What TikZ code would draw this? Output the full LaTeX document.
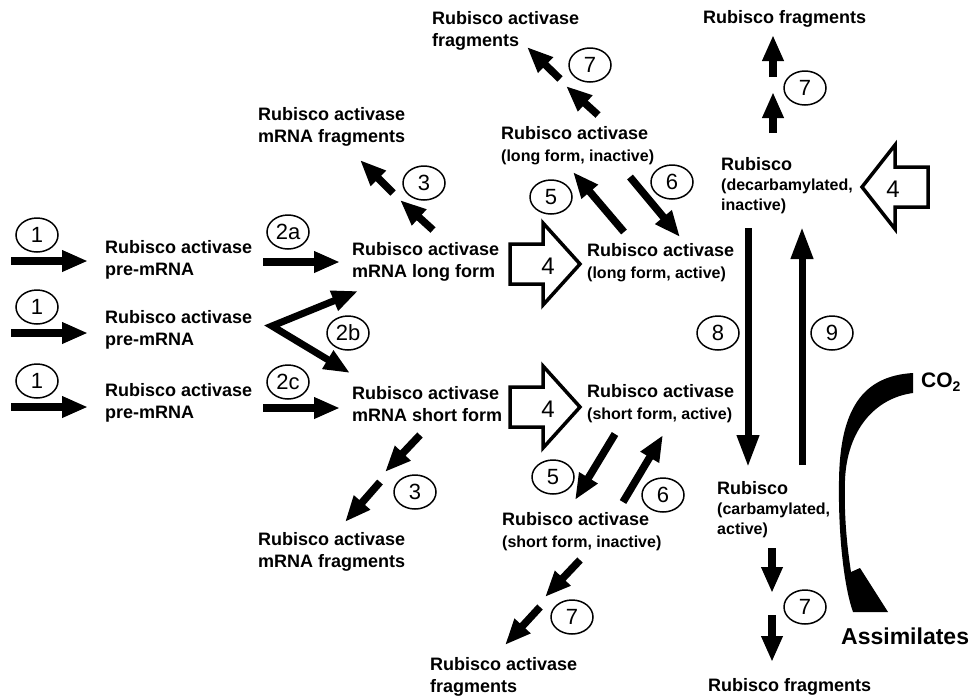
\documentclass[tikz,border=0pt]{standalone}
\usepackage{fontspec}
\setmainfont{Liberation Sans}
\usetikzlibrary{arrows.meta,shapes.geometric}
\newcommand\subf{\fontsize{16}{20}\selectfont}
\newcommand\seg[4][fat]{\coordinate (#2s) at (#3); \coordinate (#2e) at (#4); \draw[#1] (#2s) -- (#2e);}
\tikzset{
 lbl/.style={anchor=west, align=left, inner sep=0pt, font=\bfseries\fontsize{18}{22}\selectfont},
 lbls/.style={anchor=west, align=left, inner sep=0pt, font=\bfseries\fontsize{16}{20}\selectfont},
 num/.style={draw, ellipse, line width=1.5pt, minimum width=42pt, minimum height=34pt, inner sep=0pt, font=\fontsize{22}{22}\selectfont},
 fat/.style={line width=7.5pt, -{Triangle[length=26pt,width=20pt]}},
 longfat/.style={line width=7pt, -{Triangle[length=32pt,width=21pt]}},
 hollow/.style={draw, line width=3.5pt, line join=miter, fill=white},
 four/.style={font=\fontsize{24}{24}\selectfont, inner sep=0pt},
}
\begin{document}
\begin{tikzpicture}[x=1pt,y=-1pt]
\useasboundingbox (0,0) rectangle (973,697);
\fill[white] (0,0) rectangle (973,697);

% ---- text nodes
\node[lbl] (pre1) at (105,260) {Rubisco activase\\pre-mRNA};
\node[lbl] (pre2) at (105,330) {Rubisco activase\\pre-mRNA};
\node[lbl] (pre3) at (105,403) {Rubisco activase\\pre-mRNA};
\node[lbl] (mlong) at (352,262) {Rubisco activase\\mRNA long form};
\node[lbl] (mshort) at (352,404) {Rubisco activase\\mRNA short form};
\node[lbl] (mfragt) at (258,127) {Rubisco activase\\mRNA fragments};
\node[lbl] (mfragb) at (258,552) {Rubisco activase\\mRNA fragments};
\node[lbl] (lact) at (587,263) {Rubisco activase\\{\subf (long form, active)}};
\node[lbl] (linact) at (501,146) {Rubisco activase\\{\subf (long form, inactive)}};
\node[lbl] (sact) at (587,404) {Rubisco activase\\{\subf (short form, active)}};
\node[lbl] (sinact) at (502,532) {Rubisco activase\\{\subf (short form, inactive)}};
\node[lbl] (afragt) at (432,31) {Rubisco activase\\fragments};
\node[lbl] (afragb) at (430,677) {Rubisco activase\\fragments};
\node[lbls] (rdec) at (721,186) {{\fontsize{18}{20}\selectfont Rubisco}\\(decarbamylated,\\inactive)};
\node[lbls] (rcarb) at (717,510) {{\fontsize{18}{20}\selectfont Rubisco}\\(carbamylated,\\active)};
\node[lbl] (rfragt) at (703,19) {Rubisco fragments};
\node[lbl] (rfragb) at (708,687) {Rubisco fragments};
\node[lbl, font=\bfseries\fontsize{21}{22}\selectfont] (co2) at (921,382) {CO\raisebox{-0.4ex}{\fontsize{14}{14}\selectfont 2}};
\node[lbl, font=\bfseries\fontsize{23}{24}\selectfont] (assim) at (841,636) {Assimilates};

% ---- step 1
\seg{a1a}{11,261}{88,261}
\seg{a1b}{11,333}{88,333}
\seg{a1c}{11,407}{88,407}
\node[num] (n1a) at (37,235) {1};
\node[num] (n1b) at (37,307) {1};
\node[num] (n1c) at (37,381) {1};

% ---- step 2
\seg{a2a}{263,262}{340,262}
\seg{a2c}{263,408}{340,408}
\coordinate (v2b) at (272,326);
\coordinate (t2bu) at (358,291);
\coordinate (t2bd) at (350,373);
\draw[line width=7pt, line join=miter, {Triangle[length=26pt,width=20pt]}-{Triangle[length=26pt,width=20pt]}] (t2bu) -- (v2b) -- (t2bd);
\node[num] (n2a) at (288,232) {2a};
\node[num] (n2b) at (348,333) {2b};
\node[num] (n2c) at (288,382) {2c};

% ---- step 3
\seg{a3u1}{433,230}{400,200}
\seg{a3u2}{393,193}{360,160}
\node[num] (n3u) at (424,183) {3};
\seg{a3d1}{420,435}{385,472}
\seg{a3d2}{380,482}{345,522}
\node[num] (n3d) at (415,492) {3};

% ---- step 4 (hollow)
\draw[hollow] (510,244) -- (543,244) -- (543,223) -- (580,264) -- (543,305) -- (543,284) -- (510,284) -- cycle;
\node[four] (f4a) at (548,266) {4};
\draw[hollow] (510,387) -- (543,387) -- (543,366) -- (580,407) -- (543,448) -- (543,427) -- (510,427) -- cycle;
\node[four] (f4b) at (548,409) {4};
\draw[hollow] (928,167) -- (895,167) -- (895,145) -- (862,187) -- (895,229) -- (895,207) -- (928,207) -- cycle;
\node[four] (f4c) at (893,189) {4};

% ---- steps 5 and 6
\seg{a5u}{624,232}{573,172}
\node[num] (n5u) at (551,197) {5};
\seg{a6u}{630,177}{680,237}
\node[num] (n6u) at (672,182) {6};
\seg{a5d}{615,434}{575,500}
\node[num] (n5d) at (553,477) {5};
\seg{a6d}{623,502}{663,435}
\node[num] (n6d) at (663,495) {6};

% ---- step 7
\seg{a7a1}{598,115}{566,86}
\seg{a7a2}{560,79}{527,47}
\node[num] (n7a) at (590,65) {7};
\seg{a7b1}{773,133}{773,92}
\seg{a7b2}{773,77}{773,35}
\node[num] (n7b) at (805,88) {7};
\seg{a7c1}{772,548}{772,593}
\seg{a7c2}{772,615}{772,662}
\node[num] (n7c) at (805,607) {7};
\seg{a7d1}{580,560}{545,597}
\seg{a7d2}{540,607}{505,645}
\node[num] (n7d) at (572,617) {7};

% ---- steps 8 and 9
\seg[longfat]{a8}{748,228}{748,467}
\node[num] (n8) at (718,333) {8};
\seg[longfat]{a9}{802,465}{802,227}
\node[num] (n9) at (832,333) {9};

% ---- CO2 curved arrow
\fill (913,373) .. controls (862,376) and (840,410) .. (839,480)
  .. controls (838,540) and (845,590) .. (853,612) -- (888,612) -- (860,568) -- (851,572)
  .. controls (846,540) and (844,510) .. (845,480)
  .. controls (847,430) and (875,398) .. (913,393) -- cycle;
\end{tikzpicture}
\end{document}
